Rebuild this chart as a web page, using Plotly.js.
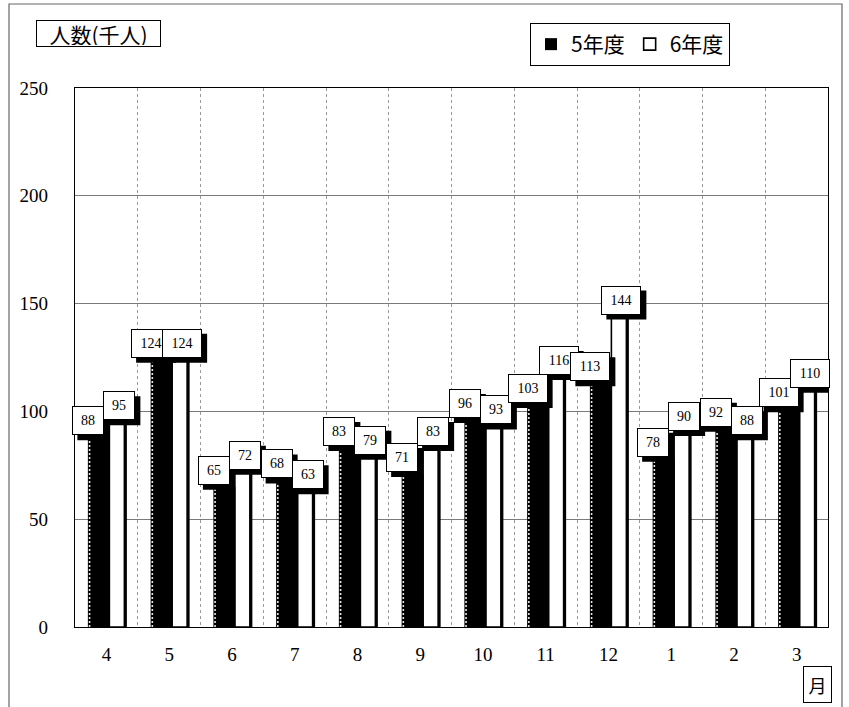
<!DOCTYPE html>
<html>
<head>
<meta charset="utf-8">
<script src="https://cdn.plot.ly/plotly-3.0.1.min.js"></script>
<style>
  html, body { margin: 0; padding: 0; background: #fff; }
  #chart { width: 849px; height: 707px; }
</style>
</head>
<body>
<div id="chart"></div>
<script>
// Monthly visitors (thousands), fiscal years 5 and 6
const months = ['4', '5', '6', '7', '8', '9', '10', '11', '12', '1', '2', '3'];
const fy5 = [88, 124, 65, 68, 83, 71, 96, 103, 113, 78, 92, 101];
const fy6 = [95, 124, 72, 63, 79, 83, 93, 116, 144, 90, 88, 110];
const seriesNames = ['5年度', '6年度'];
const yTicks = [0, 50, 100, 150, 200, 250];

const serif = 'Liberation Serif, Times New Roman, serif';
const cjk = 'Noto Sans CJK JP, sans-serif';

// plot area geometry (px) used to turn pixel offsets into category units
const plotLeft = 75, plotRight = 828, plotTop = 88, plotBottom = 627;
const catPx = (plotRight - plotLeft) / months.length;
const u = px => px / catPx;

const traces = [
  // drop shadow behind the white bars
  {
    type: 'bar', x: months, y: fy6, offset: u(5.5), width: u(15),
    marker: { color: '#000', line: { width: 0 } },
    showlegend: false, hoverinfo: 'skip'
  },
  {
    type: 'bar', name: seriesNames[1], x: months, y: fy6, offset: u(3), width: u(15),
    marker: { color: '#fff', line: { color: '#000', width: 1.6 } }
  },
  {
    type: 'bar', name: seriesNames[0], x: months, y: fy5, offset: u(-18.5), width: u(22),
    marker: { color: '#000', line: { width: 0 } }
  },
  // broken white edge on the left side of the black bars
  {
    type: 'bar', x: months, y: fy5, offset: u(-17.6), width: u(1.6),
    marker: {
      color: '#000', line: { width: 0 },
      pattern: { shape: '-', fgcolor: '#fff', bgcolor: '#000', size: 4, solidity: 0.45 }
    },
    showlegend: false, hoverinfo: 'skip'
  }
];

// value labels: white boxes, each with a black drop shadow
const annotations = [];
const shapes = [];
const boxH = 23, boxPad = 2, boxLift = 2, shadowOff = 5;
function valueLabel(i, v, dx) {
  const txt = String(v);
  const w = txt.length * 8 + 10;
  const outerW = w + 2 * boxPad + 2;
  const outerH = boxH + 2 * boxPad + 2;
  shapes.push({
    type: 'rect', layer: 'above', xref: 'x', yref: 'y',
    xsizemode: 'pixel', ysizemode: 'pixel',
    xanchor: i + u(dx), yanchor: v,
    x0: -outerW / 2 + shadowOff, x1: outerW / 2 + shadowOff,
    y0: boxLift - shadowOff, y1: boxLift - shadowOff + outerH,
    fillcolor: '#000', line: { width: 0 }
  });
  annotations.push({
    x: i + u(dx), y: v, xref: 'x', yref: 'y', text: txt, showarrow: false,
    xanchor: 'center', yanchor: 'bottom', yshift: boxLift, width: w, height: boxH,
    font: { family: serif, size: 14, color: '#000' },
    bgcolor: '#fff', bordercolor: '#000', borderwidth: 1, borderpad: boxPad
  });
}
months.forEach((m, i) => {
  valueLabel(i, fy5[i], -18);
  valueLabel(i, fy6[i], 13);
});

// axis captions in boxes
const H = plotBottom - plotTop, W = plotRight - plotLeft;
annotations.push({
  xref: 'paper', yref: 'paper',
  x: (98.5 - plotLeft) / W, y: (plotBottom - 33.5) / H,
  text: '人数(千人)', showarrow: false, xanchor: 'center', yanchor: 'middle',
  font: { family: cjk, size: 21, color: '#000' },
  width: 121, height: 23, bordercolor: '#000', borderwidth: 1, borderpad: 1, bgcolor: '#fff'
});
annotations.push({
  xref: 'paper', yref: 'paper',
  x: (817.5 - plotLeft) / W, y: (plotBottom - 684.5) / H,
  text: '月', showarrow: false, xanchor: 'center', yanchor: 'middle',
  font: { family: cjk, size: 18, color: '#000' },
  width: 25, height: 33, bordercolor: '#000', borderwidth: 1, borderpad: 1, bgcolor: '#fff'
});

// outer frame of the chart
shapes.push({
  type: 'rect', xref: 'paper', yref: 'paper', layer: 'below',
  x0: (9 - plotLeft) / W, x1: (842 - plotLeft) / W,
  y0: (plotBottom - 720) / H, y1: (plotBottom - 4) / H,
  line: { color: '#666', width: 1.2 }, fillcolor: 'rgba(0,0,0,0)'
});

const layout = {
  width: 849, height: 707,
  margin: { l: plotLeft, r: 849 - plotRight, t: plotTop, b: 707 - plotBottom, pad: 0 },
  paper_bgcolor: '#fff', plot_bgcolor: '#fff',
  barmode: 'overlay',
  showlegend: true,
  legend: {
    orientation: 'h', xref: 'paper', yref: 'paper',
    x: (530 - plotLeft) / W, y: (plotBottom - 23) / H, xanchor: 'left', yanchor: 'top',
    bordercolor: '#000', borderwidth: 1, bgcolor: '#fff',
    font: { family: cjk, size: 21, color: '#000' },
    itemwidth: 30, traceorder: 'reversed', itemclick: false
  },
  xaxis: {
    type: 'category', range: [-0.5, months.length - 0.5],
    tickson: 'boundaries', ticks: '',
    showgrid: true, gridcolor: '#9a9a9a', griddash: 'dot', gridwidth: 1,
    showline: true, linecolor: '#000', linewidth: 1.2, mirror: true,
    tickfont: { family: serif, size: 19, color: '#000' },
    ticklabelstandoff: 10, fixedrange: true
  },
  yaxis: {
    range: [0, 250], tickvals: yTicks, ticks: '',
    showgrid: true, gridcolor: '#7a7a7a', gridwidth: 1, zeroline: false,
    showline: true, linecolor: '#000', linewidth: 1.2, mirror: true,
    tickfont: { family: serif, size: 19, color: '#000' },
    ticklabelstandoff: 22, fixedrange: true
  },
  annotations: annotations,
  shapes: shapes
};

Plotly.newPlot('chart', traces, layout, { displayModeBar: false, staticPlot: true });
</script>
</body>
</html>
